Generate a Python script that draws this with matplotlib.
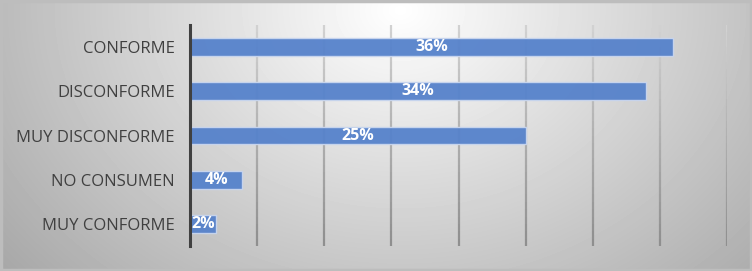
import matplotlib
matplotlib.use("Agg")
import matplotlib.pyplot as plt
import numpy as np
from matplotlib.patches import Rectangle

categories = ["MUY CONFORME", "NO CONSUMEN", "MUY DISCONFORME", "DISCONFORME", "CONFORME"]
values = [0.019, 0.039, 0.25, 0.34, 0.36]
labels = ["2%", "4%", "25%", "34%", "36%"]

plt.rcParams['font.family'] = ['Open Sans', 'DejaVu Sans']

W, H = 752, 271
fig = plt.figure(figsize=(W / 100, H / 100), dpi=100)

# background gradient
bg = fig.add_axes([0, 0, 1, 1])
yy, xx = np.mgrid[0:H, 0:W]
d = np.sqrt(((xx - 400) / 420.0) ** 2 + ((yy - 10) / 330.0) ** 2)
shade = np.clip(1.0 - 0.28 * d, 0, 1)
bg.imshow(shade, cmap="gray", vmin=0, vmax=1, aspect="auto", extent=[0, W, H, 0])
bg.add_patch(Rectangle((1, 1), W - 2, H - 2, fill=False, edgecolor="#BDBDBD", lw=2.5))
bg.set_xlim(0, W)
bg.set_ylim(H, 0)
bg.axis("off")

ax = fig.add_axes([190 / W, 25 / H, (727 - 190) / W, (246 - 25) / H])
ax.patch.set_alpha(0)
y = np.arange(len(categories))
bars = ax.barh(y, values, height=0.4, color="#5682CB", edgecolor="#C9D6EE", lw=1.0, zorder=3, alpha=0.95)
for b, lab in zip(bars, labels):
    ax.text(b.get_width() / 2, b.get_y() + b.get_height() / 2, lab, ha="center", va="center",
            color="white", fontsize=11.5, fontweight="bold", zorder=4)

ax.set_xlim(0, 0.40)
ax.set_ylim(-0.5, len(categories) - 0.5)
ticks = np.arange(0, 0.41, 0.05)
ax.set_xticks(ticks)
ax.set_xticklabels([])
ax.tick_params(axis="x", length=0)
ax.tick_params(axis="y", length=0, pad=11, labelsize=12, labelcolor="#404040")
ax.set_yticks(y)
ax.set_yticklabels(categories)

# gridlines fading lighter toward the top
n = 30
edges = np.linspace(-0.5, len(categories) - 0.5, n + 1)
for t in ticks[1:]:
    for i in range(n):
        g = 0.56 + 0.26 * (i / (n - 1))
        ax.vlines(t, edges[i], edges[i + 1], color=(g, g, g), lw=1.6, zorder=1)

for s in ["top", "right", "bottom"]:
    ax.spines[s].set_visible(False)
ax.spines["left"].set_color("#404040")
ax.spines["left"].set_linewidth(2.2)
ax.spines["left"].set_zorder(5)

fig.savefig("out.png", dpi=100)
